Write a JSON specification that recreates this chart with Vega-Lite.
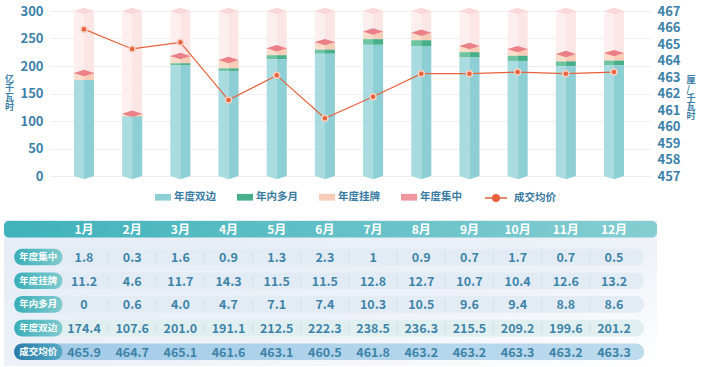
{
  "$schema": "https://vega.github.io/schema/vega-lite/v6.json",
  "background": "#ffffff",
  "padding": {"left": 4, "top": 5, "right": 0, "bottom": 0},
  "autosize": {"type": "pad"},
  "config": {
    "view": {"stroke": null},
    "font": "Noto Sans CJK SC",
    "axisLeft": {"domain": false, "ticks": false, "grid": true, "gridColor": "#EEEEEE", "gridWidth": 1,
                 "labelPadding": 7, "labelFont": "Noto Sans CJK SC", "labelFontSize": 13, "labelFontWeight": "bold", "labelColor": "#3C80A8",
                 "titleAngle": 0, "titleAlign": "right", "titleBaseline": "middle", "titleX": -36.5, "titleY": 67,
                 "titleFont": "Noto Sans CJK SC", "titleFontSize": 9, "titleFontWeight": "bold", "titleColor": "#3C80A8", "titleLineHeight": 9.5},
    "axisRight": {"domain": false, "ticks": false, "grid": false, "labelPadding": 6,
                  "labelFont": "Noto Sans CJK SC", "labelFontSize": 13, "labelFontWeight": "bold", "labelColor": "#3C80A8",
                  "titleAngle": 0, "titleAlign": "left", "titleBaseline": "middle", "titleX": 35, "titleY": 68,
                  "titleFont": "Noto Sans CJK SC", "titleFontSize": 9, "titleFontWeight": "bold", "titleColor": "#3C80A8", "titleLineHeight": 9}
  },
  "datasets": {
    "cells": [
      {"m":"1月","t":"年度集中","o":4,"v":1.8,"s":"1.8"},{"m":"2月","t":"年度集中","o":4,"v":0.3,"s":"0.3"},{"m":"3月","t":"年度集中","o":4,"v":1.6,"s":"1.6"},{"m":"4月","t":"年度集中","o":4,"v":0.9,"s":"0.9"},{"m":"5月","t":"年度集中","o":4,"v":1.3,"s":"1.3"},{"m":"6月","t":"年度集中","o":4,"v":2.3,"s":"2.3"},{"m":"7月","t":"年度集中","o":4,"v":1,"s":"1"},{"m":"8月","t":"年度集中","o":4,"v":0.9,"s":"0.9"},{"m":"9月","t":"年度集中","o":4,"v":0.7,"s":"0.7"},{"m":"10月","t":"年度集中","o":4,"v":1.7,"s":"1.7"},{"m":"11月","t":"年度集中","o":4,"v":0.7,"s":"0.7"},{"m":"12月","t":"年度集中","o":4,"v":0.5,"s":"0.5"},
      {"m":"1月","t":"年度挂牌","o":3,"v":11.2,"s":"11.2"},{"m":"2月","t":"年度挂牌","o":3,"v":4.6,"s":"4.6"},{"m":"3月","t":"年度挂牌","o":3,"v":11.7,"s":"11.7"},{"m":"4月","t":"年度挂牌","o":3,"v":14.3,"s":"14.3"},{"m":"5月","t":"年度挂牌","o":3,"v":11.5,"s":"11.5"},{"m":"6月","t":"年度挂牌","o":3,"v":11.5,"s":"11.5"},{"m":"7月","t":"年度挂牌","o":3,"v":12.8,"s":"12.8"},{"m":"8月","t":"年度挂牌","o":3,"v":12.7,"s":"12.7"},{"m":"9月","t":"年度挂牌","o":3,"v":10.7,"s":"10.7"},{"m":"10月","t":"年度挂牌","o":3,"v":10.4,"s":"10.4"},{"m":"11月","t":"年度挂牌","o":3,"v":12.6,"s":"12.6"},{"m":"12月","t":"年度挂牌","o":3,"v":13.2,"s":"13.2"},
      {"m":"1月","t":"年内多月","o":2,"v":0,"s":"0"},{"m":"2月","t":"年内多月","o":2,"v":0.6,"s":"0.6"},{"m":"3月","t":"年内多月","o":2,"v":4.0,"s":"4.0"},{"m":"4月","t":"年内多月","o":2,"v":4.7,"s":"4.7"},{"m":"5月","t":"年内多月","o":2,"v":7.1,"s":"7.1"},{"m":"6月","t":"年内多月","o":2,"v":7.4,"s":"7.4"},{"m":"7月","t":"年内多月","o":2,"v":10.3,"s":"10.3"},{"m":"8月","t":"年内多月","o":2,"v":10.5,"s":"10.5"},{"m":"9月","t":"年内多月","o":2,"v":9.6,"s":"9.6"},{"m":"10月","t":"年内多月","o":2,"v":9.4,"s":"9.4"},{"m":"11月","t":"年内多月","o":2,"v":8.8,"s":"8.8"},{"m":"12月","t":"年内多月","o":2,"v":8.6,"s":"8.6"},
      {"m":"1月","t":"年度双边","o":1,"v":174.4,"s":"174.4"},{"m":"2月","t":"年度双边","o":1,"v":107.6,"s":"107.6"},{"m":"3月","t":"年度双边","o":1,"v":201.0,"s":"201.0"},{"m":"4月","t":"年度双边","o":1,"v":191.1,"s":"191.1"},{"m":"5月","t":"年度双边","o":1,"v":212.5,"s":"212.5"},{"m":"6月","t":"年度双边","o":1,"v":222.3,"s":"222.3"},{"m":"7月","t":"年度双边","o":1,"v":238.5,"s":"238.5"},{"m":"8月","t":"年度双边","o":1,"v":236.3,"s":"236.3"},{"m":"9月","t":"年度双边","o":1,"v":215.5,"s":"215.5"},{"m":"10月","t":"年度双边","o":1,"v":209.2,"s":"209.2"},{"m":"11月","t":"年度双边","o":1,"v":199.6,"s":"199.6"},{"m":"12月","t":"年度双边","o":1,"v":201.2,"s":"201.2"},
      {"m":"1月","t":"成交均价","o":5,"v":465.9,"s":"465.9"},{"m":"2月","t":"成交均价","o":5,"v":464.7,"s":"464.7"},{"m":"3月","t":"成交均价","o":5,"v":465.1,"s":"465.1"},{"m":"4月","t":"成交均价","o":5,"v":461.6,"s":"461.6"},{"m":"5月","t":"成交均价","o":5,"v":463.1,"s":"463.1"},{"m":"6月","t":"成交均价","o":5,"v":460.5,"s":"460.5"},{"m":"7月","t":"成交均价","o":5,"v":461.8,"s":"461.8"},{"m":"8月","t":"成交均价","o":5,"v":463.2,"s":"463.2"},{"m":"9月","t":"成交均价","o":5,"v":463.2,"s":"463.2"},{"m":"10月","t":"成交均价","o":5,"v":463.3,"s":"463.3"},{"m":"11月","t":"成交均价","o":5,"v":463.2,"s":"463.2"},{"m":"12月","t":"成交均价","o":5,"v":463.3,"s":"463.3"}
    ]
  },
  "bounds": "full",
  "spacing": 15,
  "resolve": {"scale": {"color": "independent", "stroke": "independent"}},
  "vconcat": [
    {
      "width": 601,
      "height": 165,
      "data": {"name": "cells"},
      "encoding": {
        "x": {"field": "m", "type": "nominal", "sort": null, "axis": null,
              "scale": {"domain": ["1月","2月","3月","4月","5月","6月","7月","8月","9月","10月","11月","12月"], "paddingInner": 0, "paddingOuter": 0.2366, "align": 0.434}}
      },
      "layer": [
        {
          "transform": [
            {"filter": "datum.t !== '成交均价'"},
            {"stack": "v", "groupby": ["m"], "sort": [{"field": "o", "order": "ascending"}], "as": ["v0", "v1"]}
          ],
          "layer": [
            {
              "transform": [{"filter": "datum.t === '年度双边'"}],
              "mark": {"type": "bar", "width": 10, "xOffset": -5, "color": "#FDEFEF"},
              "encoding": {"y": {"datum": 300, "type": "quantitative", "scale": {"domain": [0, 300], "nice": false},
                                 "axis": {"orient": "left", "values": [0, 50, 100, 150, 200, 250, 300], "title": ["亿", "千", "瓦", "时"]}}}
            },
            {
              "transform": [{"filter": "datum.t === '年度双边'"}],
              "mark": {"type": "bar", "width": 10, "xOffset": 5, "color": "#FBE5E5"},
              "encoding": {"y": {"datum": 300, "type": "quantitative", "axis": {"orient": "left", "values": [0, 50, 100, 150, 200, 250, 300], "title": ["亿", "千", "瓦", "时"]}}}
            },
            {
              "transform": [{"filter": "datum.t === '年度双边'"}],
              "mark": {"type": "point", "shape": "M-1,0L0,-0.32L1,0L0,0.32Z", "size": 400, "filled": true, "opacity": 1, "color": "#FAD8D9", "strokeWidth": 0},
              "encoding": {"y": {"datum": 300, "type": "quantitative", "axis": {"orient": "left", "values": [0, 50, 100, 150, 200, 250, 300], "title": ["亿", "千", "瓦", "时"]}}}
            },
            {
              "mark": {"type": "bar", "width": 10, "xOffset": -5},
              "encoding": {
                "y": {"field": "v1", "type": "quantitative", "axis": {"orient": "left", "values": [0, 50, 100, 150, 200, 250, 300], "title": ["亿", "千", "瓦", "时"]}},
                "y2": {"field": "v0"},
                "color": {"field": "t", "type": "nominal",
                          "scale": {"domain": ["年度双边", "年内多月", "年度挂牌", "年度集中"], "range": ["#A8DCE0", "#6CC4A0", "#FCDDCC", "#F4ABB2"]},
                          "legend": null}
              }
            },
            {
              "mark": {"type": "bar", "width": 10, "xOffset": 5},
              "encoding": {
                "y": {"field": "v1", "type": "quantitative", "axis": {"orient": "left", "values": [0, 50, 100, 150, 200, 250, 300], "title": ["亿", "千", "瓦", "时"]}},
                "y2": {"field": "v0"},
                "color": {"field": "t", "type": "nominal",
                          "scale": {"domain": ["年度双边", "年内多月", "年度挂牌", "年度集中"], "range": ["#8ECFD6", "#47B08A", "#F8CDB7", "#EE959E"]},
                          "legend": {"orient": "none", "legendX": 105, "legendY": 178, "direction": "horizontal", "title": null, "padding": 0,
                                     "symbolType": "M-1,-0.42H1V0.42H-1Z", "symbolSize": 256, "symbolStrokeWidth": 0, "symbolOpacity": 1,
                                     "labelFont": "Noto Sans CJK SC", "labelFontSize": 10.5, "labelFontWeight": "bold", "labelColor": "#3A7BA2",
                                     "labelOffset": 3, "columnPadding": 21}}
              }
            },
            {
              "transform": [{"filter": "datum.t === '年度集中'"}],
              "mark": {"type": "point", "shape": "M-1,0L0,-0.32L1,0L0,0.32Z", "size": 400, "filled": true, "opacity": 1, "color": "#EC8088", "strokeWidth": 0},
              "encoding": {"y": {"field": "v1", "type": "quantitative", "axis": {"orient": "left", "values": [0, 50, 100, 150, 200, 250, 300], "title": ["亿", "千", "瓦", "时"]}}}
            },
            {
              "transform": [{"filter": "datum.t === '年度双边'"}],
              "mark": {"type": "point", "shape": "M-1,0L0,0L0,0.32Z", "size": 400, "filled": true, "opacity": 1, "color": "#A8DCE0", "strokeWidth": 0},
              "encoding": {"y": {"datum": 0, "type": "quantitative", "axis": {"orient": "left", "values": [0, 50, 100, 150, 200, 250, 300], "title": ["亿", "千", "瓦", "时"]}}}
            },
            {
              "transform": [{"filter": "datum.t === '年度双边'"}],
              "mark": {"type": "point", "shape": "M0,0L1,0L0,0.32Z", "size": 400, "filled": true, "opacity": 1, "color": "#8ECFD6", "strokeWidth": 0},
              "encoding": {"y": {"datum": 0, "type": "quantitative", "axis": {"orient": "left", "values": [0, 50, 100, 150, 200, 250, 300], "title": ["亿", "千", "瓦", "时"]}}}
            }
          ],
          "resolve": {"scale": {"color": "independent"}}
        },
        {
          "transform": [{"filter": "datum.t === '成交均价'"}],
          "encoding": {
            "y": {"field": "v", "type": "quantitative",
                  "scale": {"domain": [457, 467], "nice": false, "zero": false},
                  "axis": {"orient": "right", "values": [457, 458, 459, 460, 461, 462, 463, 464, 465, 466, 467], "title": ["厘", "/", "千", "瓦", "时"]}}
          },
          "layer": [
            {
              "mark": {"type": "line", "strokeWidth": 1.2},
              "encoding": {
                "stroke": {"datum": "成交均价", "type": "nominal", "scale": {"range": ["#E8623D"]},
                           "legend": {"orient": "none", "legendX": 434, "legendY": 175, "title": null, "padding": 0,
                                      "symbolType": "M-1,0H1M-0.3,0A0.3,0.3,0,1,0,0.3,0A0.3,0.3,0,1,0,-0.3,0", "symbolSize": 484,
                                      "symbolStrokeWidth": 1.5, "symbolFillColor": "#E8623D", "symbolStrokeColor": "#E8623D",
                                      "labelFont": "Noto Sans CJK SC", "labelFontSize": 10.5, "labelFontWeight": "bold", "labelColor": "#3A7BA2",
                                      "labelOffset": 6,
                                      "encode": {"symbols": {"update": {"fill": {"value": "#E8623D"}, "stroke": {"value": "#E8623D"}, "strokeWidth": {"value": 1.5}}}}}}
              }
            },
            {
              "mark": {"type": "point", "filled": true, "size": 36, "color": "#E8623D", "stroke": "#F9D0C2", "strokeWidth": 1.5, "opacity": 1}
            }
          ]
        }
      ],
      "resolve": {"scale": {"y": "independent"}}
    },
    {
      "width": 607,
      "height": 146,
      "data": {"name": "cells"},
      "encoding": {
        "y": {"field": "t", "type": "nominal", "sort": null, "axis": null,
              "scale": {"domain": ["月份", "年度集中", "年度挂牌", "年内多月", "年度双边", "成交均价"], "paddingInner": 0.3, "paddingOuter": 0.23, "align": 0.459}},
        "x": {"field": "m", "type": "nominal", "sort": null, "axis": null,
              "scale": {"domain": ["项目","1月","2月","3月","4月","5月","6月","7月","8月","9月","10月","11月","12月","尾"], "range": [-38.28, 636.24], "paddingInner": 0, "paddingOuter": 0}}
      },
      "layer": [
        {
          "data": {"values": [{}]},
          "mark": {"type": "rect", "xOffset": -7.72, "x2Offset": 18.94,
                   "color": {"gradient": "linear", "x1": 0, "y1": 0, "x2": 1, "y2": 1,
                   "stops": [{"offset": 0, "color": "#E4ECF6"}, {"offset": 0.6, "color": "#EEF2F8"}, {"offset": 1, "color": "#FFFFFF"}]}},
          "encoding": {"y": null, "x": {"datum": "项目", "type": "nominal", "bandPosition": 0, "axis": null}, "x2": {"datum": "尾", "bandPosition": 0}}
        },
        {
          "data": {"values": [{}]},
          "mark": {"type": "rect", "cornerRadius": 5, "yOffset": -4, "xOffset": -7.72, "x2Offset": 18.94,
                   "color": {"gradient": "linear", "x1": 0, "y1": 0, "x2": 1, "y2": 0,
                             "stops": [{"offset": 0, "color": "#3FB2BA"}, {"offset": 1, "color": "#85CED2"}]}},
          "encoding": {"y": {"datum": "月份", "type": "nominal", "axis": null},
                       "x": {"datum": "项目", "type": "nominal", "bandPosition": 0, "axis": null}, "x2": {"datum": "尾", "bandPosition": 0}}
        },
        {
          "transform": [{"filter": "datum.t === '成交均价'"}],
          "mark": {"type": "text", "color": "#FFFFFF", "font": "Noto Sans CJK SC", "fontSize": 12, "fontWeight": "bold", "dy": -3.5},
          "encoding": {
            "y": {"datum": "月份", "type": "nominal", "axis": null},
            "text": {"field": "m"}
          }
        },
        {
          "transform": [{"filter": "datum.m === '1月' && (datum.t === '年度集中' || datum.t === '年度挂牌' || datum.t === '年内多月')"}],
          "mark": {"type": "rect", "color": "#E3ECF5", "cornerRadius": 8, "xOffset": 2.3, "x2Offset": 6},
          "encoding": {"x": {"datum": "项目", "type": "nominal", "bandPosition": 0, "axis": null}, "x2": {"datum": "尾", "bandPosition": 0}}
        },
        {
          "transform": [{"filter": "datum.m === '1月' && datum.t === '年度双边'"}],
          "mark": {"type": "rect", "color": "#E2EFF0", "cornerRadius": 8, "xOffset": 2.3, "x2Offset": 6},
          "encoding": {"x": {"datum": "项目", "type": "nominal", "bandPosition": 0, "axis": null}, "x2": {"datum": "尾", "bandPosition": 0}}
        },
        {
          "transform": [{"filter": "datum.m === '1月' && datum.t === '成交均价'"}],
          "mark": {"type": "rect", "cornerRadius": 8, "xOffset": 2.3, "x2Offset": 6,
                   "color": {"gradient": "linear", "x1": 0, "y1": 0, "x2": 1, "y2": 0,
                             "stops": [{"offset": 0, "color": "#A2CBE7"}, {"offset": 1, "color": "#BEDBEE"}]}},
          "encoding": {"x": {"datum": "项目", "type": "nominal", "bandPosition": 0, "axis": null}, "x2": {"datum": "尾", "bandPosition": 0}}
        },
        {
          "transform": [{"filter": "datum.m !== '1月' && datum.t !== '成交均价'"}],
          "mark": {"type": "tick", "orient": "vertical", "size": 10, "thickness": 1, "color": "#CFE0EA", "opacity": 1},
          "encoding": {"x": {"field": "m", "type": "nominal", "sort": null, "axis": null, "bandPosition": 0}}
        },
        {
          "transform": [{"filter": "datum.m === '1月' && datum.t !== '成交均价'"}],
          "mark": {"type": "rect", "cornerRadius": 8, "xOffset": 2.5, "x2Offset": 2.5,
                   "color": {"gradient": "linear", "x1": 0, "y1": 0, "x2": 1, "y2": 0,
                             "stops": [{"offset": 0, "color": "#3AAEB8"}, {"offset": 1, "color": "#80CBCF"}]}},
          "encoding": {"x": {"datum": "项目", "type": "nominal", "axis": null}}
        },
        {
          "transform": [{"filter": "datum.m === '1月' && datum.t === '成交均价'"}],
          "mark": {"type": "rect", "cornerRadius": 8, "xOffset": 2.5, "x2Offset": 2.5,
                   "color": {"gradient": "linear", "x1": 0, "y1": 0, "x2": 1, "y2": 0,
                             "stops": [{"offset": 0, "color": "#2A7CA6"}, {"offset": 1, "color": "#55AAC6"}]}},
          "encoding": {"x": {"datum": "项目", "type": "nominal", "axis": null}}
        },
        {
          "transform": [{"filter": "datum.m === '1月'"}],
          "mark": {"type": "text", "color": "#FFFFFF", "font": "Noto Sans CJK SC", "fontSize": 9.5, "fontWeight": "bold", "dx": 2.5},
          "encoding": {"x": {"datum": "项目", "type": "nominal", "axis": null}, "text": {"field": "t"}}
        },
        {
          "mark": {"type": "text", "color": "#3E84A8", "font": "Noto Sans CJK SC", "fontSize": 12.5, "fontWeight": "bold", "dy": 1},
          "encoding": {
            "text": {"field": "s"}
          }
        }
      ]
    }
  ]
}
